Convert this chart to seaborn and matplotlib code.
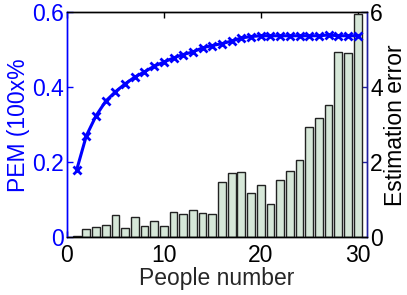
import matplotlib
matplotlib.use("Agg")
import matplotlib.pyplot as plt
import seaborn as sns
import pandas as pd

people = list(range(1, 31))
est_error = [0.05, 0.22, 0.28, 0.34, 0.60, 0.24, 0.55, 0.31, 0.43, 0.31,
             0.67, 0.62, 0.72, 0.65, 0.62, 1.48, 1.72, 1.75, 1.18, 1.39,
             0.88, 1.54, 1.77, 2.07, 2.93, 3.18, 3.53, 4.94, 4.91, 5.95]
pem = [0.180, 0.271, 0.324, 0.363, 0.388, 0.409, 0.427, 0.441, 0.456, 0.467,
       0.478, 0.487, 0.494, 0.505, 0.511, 0.516, 0.523, 0.531, 0.535, 0.537,
       0.537, 0.537, 0.537, 0.537, 0.537, 0.537, 0.539, 0.537, 0.537, 0.537]
xticks = [0, 10, 20, 30]
left_ticks = [0, 0.2, 0.4, 0.6]
right_ticks = [0, 2, 4, 6]

sns.set_style("white")
plt.rcParams['font.family'] = ['Liberation Sans', 'DejaVu Sans']
FS = 16.5

df = pd.DataFrame({"people": people, "err": est_error, "pem": pem})

fig = plt.figure(figsize=(4.07, 2.95), dpi=100)
ax_bar = fig.add_axes([0.1646, 0.195, 0.7379, 0.764])
sns.barplot(data=df, x="people", y="err", native_scale=True, ax=ax_bar,
            color="#d6e7d8", saturation=1, edgecolor="#222222", linewidth=1.0,
            width=0.8, zorder=2)

ax_line = ax_bar.twinx()
sns.lineplot(data=df, x="people", y="pem", ax=ax_line, color="#0000ff",
             marker="x", markersize=5.5, markeredgewidth=2, linewidth=2.2,
             markeredgecolor="#0000ff")

# bars axis: ticks/labels on the right
ax_bar.yaxis.tick_right()
ax_bar.yaxis.set_label_position("right")
ax_bar.set_ylim(0, 6)
ax_bar.set_yticks(right_ticks)
ax_bar.set_yticklabels([str(t) for t in right_ticks], fontsize=FS, color="black")
ax_bar.set_ylabel("Estimation error", fontsize=FS, color="black", labelpad=1)
ax_bar.set_xlim(0, 31)
ax_bar.set_xticks(xticks)
ax_bar.set_xticklabels([str(t) for t in xticks], fontsize=FS)
ax_bar.set_xlabel("People number", fontsize=FS, labelpad=0)
ax_bar.tick_params(axis="x", direction="in", length=4, width=1, pad=5,
                   top=True, bottom=True, colors="black")
ax_bar.tick_params(axis="y", direction="in", length=4, width=1, pad=2,
                   right=True, left=False, labelright=True, labelleft=False,
                   color="#2020a0", labelcolor="black")

# line axis: ticks/labels on the left
ax_line.yaxis.tick_left()
ax_line.yaxis.set_label_position("left")
ax_line.set_ylim(0, 0.6)
ax_line.set_yticks(left_ticks)
ax_line.set_yticklabels(["0", "0.2", "0.4", "0.6"], fontsize=FS)
ax_line.set_ylabel("PEM (100x%", fontsize=FS, color="#0000ff", labelpad=2)
ax_line.tick_params(axis="y", direction="in", length=4, width=1, pad=2,
                    left=True, right=False, labelleft=True, labelright=False,
                    colors="#0000ff")
ax_line.set_xlim(0, 31)

for a in (ax_bar, ax_line):
    for s in a.spines.values():
        s.set_linewidth(1)
    a.spines["top"].set_color("black")
    a.spines["bottom"].set_color("black")
    a.spines["left"].set_color("#0000ff")
    a.spines["right"].set_color("#2020a0")

fig.savefig("out.png", dpi=100)
